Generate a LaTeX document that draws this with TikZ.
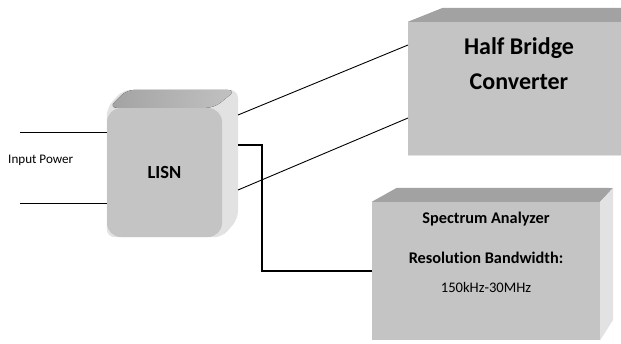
\documentclass[tikz,border=0pt]{standalone}
\usepackage{fontspec}
\setmainfont{Carlito}[Ligatures=NoCommon]
\usetikzlibrary{positioning,backgrounds}
\definecolor{face}{RGB}{196,196,196}
\definecolor{topface}{RGB}{162,162,162}
\definecolor{sideface}{RGB}{226,226,226}

\begin{document}
\begin{tikzpicture}[x=1pt,y=-1pt,
  box/.style={fill=face, inner sep=0pt},
  wire/.style={black, line width=0.9pt}]
\useasboundingbox (0,0) rectangle (621,343);

% front faces
\node[box, rounded corners=14pt, minimum width=115pt, minimum height=129pt,
  font=\bfseries\fontsize{18.5}{20}\selectfont] (lisn) at (164.5,172.5) {LISN};
\node[box, minimum width=222pt, minimum height=133pt] (hb) at (519,88.5) {};
\node[box, minimum width=228pt, minimum height=138pt] (sa) at (486,271) {};

\begin{scope}[on background layer]
% LISN extrusion
\fill[sideface, rounded corners=8pt] (lisn.north west) -- ++(16,-18) -- (238,90)
  -- (238,219) -- (lisn.south east) -- (lisn.south west) -- cycle;
\fill[left color=topface, right color=topface!50!sideface, rounded corners=8pt]
  ([xshift=2pt]lisn.north west) -- ++(18,-18) -- (236,90) -- ([xshift=-8pt]lisn.north east) -- cycle;
\end{scope}

% Half Bridge extrusion
\fill[topface] (hb.north west) -- ++(35,-14) -- (630,8) -- (hb.north east) -- cycle;
\draw[sideface, line width=1pt] (hb.south west) -- (hb.south east);

% Spectrum Analyzer extrusion
\fill[topface] (sa.north west) -- ++(25,-14) -- (613,188) -- (sa.north east) -- cycle;
\fill[sideface] (sa.north east) -- (613,188) -- (613,320) -- (sa.south east) -- cycle;

% texts
\node[font=\bfseries\fontsize{24}{35}\selectfont, align=center] (hbtext) at (519,64)
  {Half Bridge\\Converter};
\node[font=\bfseries\fontsize{16.3}{18}\selectfont] (satitle) at (486,219) {Spectrum Analyzer};
\node[font=\bfseries\fontsize{16.3}{18}\selectfont] (sares) at (486,258) {Resolution Bandwidth:};
\node[font=\fontsize{14.6}{16}\selectfont] (saband) at (486,287) {150kHz-30MHz};
\node[font=\fontsize{13.1}{15}\selectfont, anchor=west, inner sep=1pt] (inp) at (7,160) {Input Power};

% connectors
\coordinate (in1) at (20,132);
\coordinate (in2) at (20,203);
\coordinate (l1) at (238,115);
\coordinate (l2) at (238,190);
\coordinate (l3) at (238,145);
\coordinate (h1) at (408,45);
\coordinate (h2) at (408,118);
\draw[wire] (in1) -- (in1 -| lisn.west);
\draw[wire] (in2) -- (in2 -| lisn.west);
\draw[wire] (l1) -- (h1);
\draw[wire] (l2) -- (h2);
\draw[wire, line width=1.2pt] (l3) -- ++(24,0) |- (sa.west);
\end{tikzpicture}
\end{document}
